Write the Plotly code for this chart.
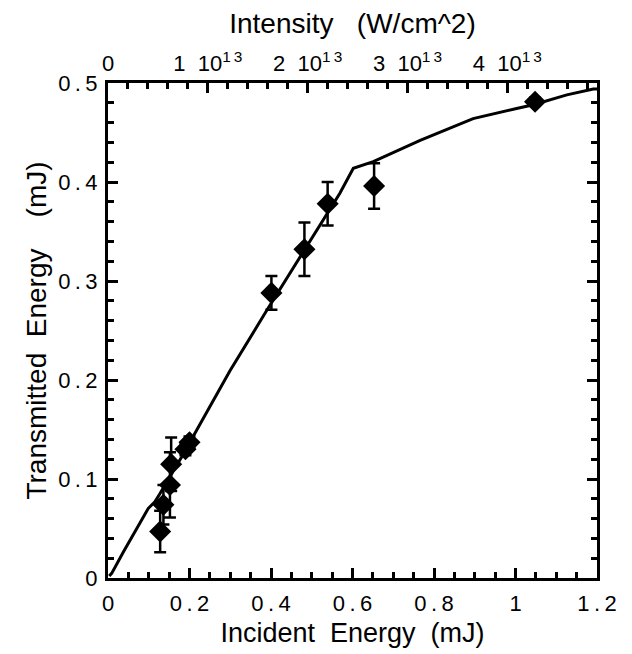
import plotly.graph_objects as go

# Measured points (incident energy mJ, transmitted energy mJ, error)
meas_x = [0.128, 0.136, 0.152, 0.155, 0.190, 0.200, 0.401, 0.482, 0.539, 0.653, 1.048]
meas_y = [0.047, 0.074, 0.094, 0.115, 0.130, 0.137, 0.288, 0.332, 0.378, 0.396, 0.481]
meas_err = [0.021, 0.020, 0.033, 0.027, 0.006, 0.006, 0.017, 0.027, 0.022, 0.023, 0.004]

# Simulated curve
curve_x = [0.003, 0.009, 0.038, 0.099, 0.115, 0.128, 0.181, 0.213, 0.299, 0.389,
           0.471, 0.520, 0.569, 0.602, 0.651, 0.766, 0.896, 1.000, 1.044, 1.126, 1.191, 1.2]
curve_y = [0.002, 0.0047, 0.0266, 0.0704, 0.077, 0.0856, 0.1225, 0.146, 0.209, 0.270,
           0.324, 0.355, 0.3886, 0.4138, 0.4205, 0.442, 0.464, 0.474, 0.478, 0.488, 0.494, 0.494]

# Top axis: intensity ticks (units of 1e13 W/cm^2); mJ per 1e13 W/cm^2
intensity_ticks = [0, 1, 2, 3, 4]
intensity_labels = ["0", "1\u00a0\u00a010<sup>1\u20093</sup>", "2\u00a0\u00a010<sup>1\u20093</sup>",
                    "3\u00a0\u00a010<sup>1\u20093</sup>", "4\u00a0\u00a010<sup>1\u20093</sup>"]
mj_per_unit = 0.245

x_ticks = [0, 0.2, 0.4, 0.6, 0.8, 1.0, 1.2]
x_labels = ["0", "0\u2009.\u20092", "0\u2009.\u20094", "0\u2009.\u20096", "0\u2009.\u20098", "1", "1\u2009.\u20092"]
y_ticks = [0, 0.1, 0.2, 0.3, 0.4, 0.5]
y_labels = ["0", "0\u2009.\u20091", "0\u2009.\u20092", "0\u2009.\u20093", "0\u2009.\u20094", "0\u2009.\u20095"]

FONT = "Liberation Sans, Arial, sans-serif"

fig = go.Figure()
fig.add_trace(go.Scatter(x=curve_x, y=curve_y, mode="lines",
                         line=dict(color="black", width=3), showlegend=False))
fig.add_trace(go.Scatter(x=meas_x, y=meas_y, mode="markers",
                         marker=dict(symbol="diamond", size=17, color="black"),
                         error_y=dict(type="data", array=meas_err, color="black",
                                      thickness=2.5, width=6),
                         showlegend=False))
# invisible trace for top axis
fig.add_trace(go.Scatter(x=[0], y=[0], xaxis="x2", mode="markers",
                         marker=dict(opacity=0), showlegend=False, hoverinfo="skip"))

fig.update_layout(
    width=632, height=654,
    paper_bgcolor="white", plot_bgcolor="white",
    margin=dict(l=100, r=43, t=75, b=84),
    font=dict(family=FONT, color="black", size=22),
    xaxis=dict(range=[0, 1.2], tickvals=x_ticks, ticktext=x_labels,
               ticks="inside", ticklen=10, tickwidth=2.5, tickcolor="black",
               minor=dict(dtick=0.05, ticks="inside", ticklen=6, tickwidth=2.5, tickcolor="black"),
               showline=True, linewidth=3, linecolor="black", mirror=True,
               showgrid=False, zeroline=False, ticklabelstandoff=4,
               title=dict(text="Incident\u00a0\u00a0Energy\u00a0\u00a0(mJ)", font=dict(size=27), standoff=8),
               tickfont=dict(size=22)),
    xaxis2=dict(overlaying="x", side="top", range=[0, 1.2 / mj_per_unit],
                tickvals=intensity_ticks, ticktext=intensity_labels,
                ticks="inside", ticklen=10, tickwidth=2.5, tickcolor="black",
                minor=dict(dtick=0.2, ticks="inside", ticklen=6, tickwidth=2.5, tickcolor="black"),
                showline=True, linewidth=3, linecolor="black",
                showgrid=False, zeroline=False,
                title=dict(text="Intensity\u00a0\u00a0\u00a0(W/cm^2)", font=dict(size=28), standoff=8),
                tickfont=dict(size=22)),
    yaxis=dict(range=[0, 0.5], tickvals=y_ticks, ticktext=y_labels,
               ticks="inside", ticklen=10, tickwidth=2.5, tickcolor="black",
               minor=dict(dtick=0.02, ticks="inside", ticklen=6, tickwidth=2.5, tickcolor="black"),
               showline=True, linewidth=3, linecolor="black", mirror="ticks",
               showgrid=False, zeroline=False, ticklabelstandoff=3,
               title=dict(text="Transmitted\u00a0\u00a0Energy\u00a0\u00a0\u00a0\u00a0(mJ)", font=dict(size=28), standoff=4),
               tickfont=dict(size=22)),
)

fig.write_html("out.html")
